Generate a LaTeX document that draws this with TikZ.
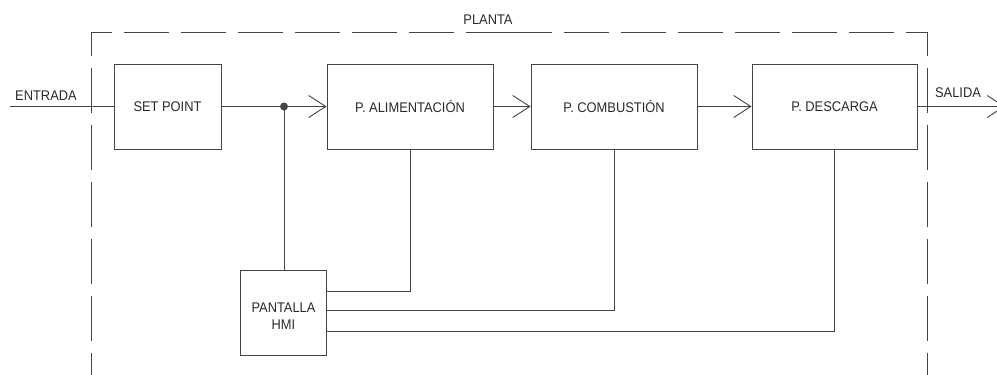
\documentclass[tikz,border=0pt]{standalone}
\usepackage{fontspec}
\setmainfont{Liberation Sans}[FakeStretch=0.92]
\usetikzlibrary{arrows.meta}
\definecolor{ln}{HTML}{444444}
\definecolor{tx}{HTML}{2A2A2A}
\begin{document}
\begin{tikzpicture}[x=1pt,y=-1pt,
  every node/.style={font=\fontsize{14}{16.5}\selectfont, text=tx},
  line/.style={draw=ln, line width=0.9pt},
  blk/.style={line, inner sep=0pt, minimum height=85pt, align=center},
  arr/.style={line, -{Straight Barb[length=17pt,width=22pt,line width=0.9pt]}},
  frame/.style={draw=ln, line width=1pt, dash pattern=on 45pt off 12pt, dash phase=23pt},
  lbl/.style={inner sep=0pt}]
\clip (0,0) rectangle (997,375);
\fill[white] (0,0) rectangle (997,375);
% frame
\draw[frame] (91,375) -- (91,32) -- (509,32);
\draw[frame] (927,375) -- (927,32) -- (509,32);
% blocks
\node[blk, minimum width=107pt] (sp) at (167.5,106.5) {SET POINT};
\node[blk, minimum width=166pt] (pa) at (410,106.5) {P. ALIMENTACIÓN};
\node[blk, minimum width=166pt] (pc) at (614,106.5) {P. COMBUSTIÓN};
\node[blk, minimum width=165pt] (pd) at (834.5,106.5) {P. DESCARGA};
\node[blk, minimum width=86pt] (hmi) at (283.5,312.5) {};
\node[lbl, align=center] (hmitxt) at (283.5,316) {PANTALLA\\HMI};
% labels
\node[lbl] (entrada) at (46,96) {ENTRADA};
\node[lbl] (planta) at (488,19.5) {PLANTA};
\node[lbl] (salida) at (958,93) {SALIDA};
% connectors
\coordinate (in) at (10,106.5);
\coordinate (j) at (284,106.5);
\coordinate (out) at (1005,106.5);
\draw[line] (in) -- (sp.west);
\draw[line] (sp.east) -- (j);
\draw[arr] (j) -- (pa.west);
\draw[arr] (pa.east) -- (pc.west);
\draw[arr] (pc.east) -- (pd.west);
\draw[arr] (pd.east) -- (out);
\draw[line] (j) -- (j |- hmi.north);
\fill[ln] (j) circle (4pt);
\draw[line] (pa.south) |- ([yshift=21.5pt]hmi.east);
\draw[line] (pc.south) |- ([yshift=2pt]hmi.east);
\draw[line] (pd.south) |- ([yshift=-18.5pt]hmi.east);
\end{tikzpicture}
\end{document}
